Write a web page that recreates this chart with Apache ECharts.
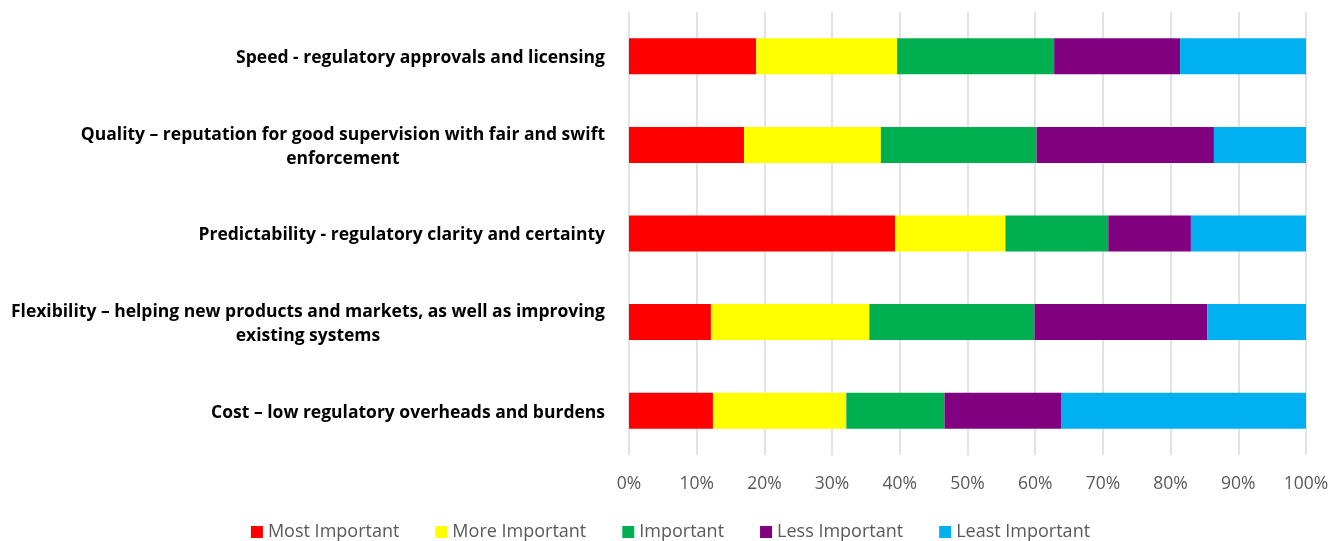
<!DOCTYPE html>
<html>
<head>
<meta charset="utf-8">
<script src="https://cdn.jsdelivr.net/npm/echarts@6/dist/echarts.min.js"></script>
<style>html,body{margin:0;padding:0;background:#fff}#c{width:1341px;height:541px}</style>
</head>
<body>
<div id="c"></div>
<script>
const categories = [
  "Speed - regulatory approvals and licensing",
  "Quality \u2013 reputation for good supervision with fair and swift\nenforcement",
  "Predictability - regulatory clarity and certainty",
  "Flexibility \u2013 helping new products and markets, as well as improving\nexisting systems",
  "Cost \u2013 low regulatory overheads and burdens"
];
const seriesNames = ["Most Important", "More Important", "Important", "Less Important", "Least Important"];
const mostImportant  = [18.8, 17.0, 39.3, 12.1, 12.4];
const moreImportant  = [20.8, 20.2, 16.3, 23.4, 19.7];
const important      = [23.2, 23.0, 15.2, 24.4, 14.5];
const lessImportant  = [18.6, 26.2, 12.2, 25.5, 17.3];
const leastImportant = [18.6, 13.6, 17.0, 14.6, 36.1];
const colors = ["#ff0000", "#ffff00", "#00b050", "#800080", "#00b0f0"];
const values = [mostImportant, moreImportant, important, lessImportant, leastImportant];

const labelFont = "'Open Sans', sans-serif";
const chart = echarts.init(document.getElementById('c'));
chart.setOption({
  animation: false,
  grid: { left: 629, right: 35, top: 12, bottom: 86, containLabel: false },
  legend: {
    top: 518, left: 'center', itemWidth: 12, itemHeight: 12, itemGap: 36,
    icon: 'rect',
    textStyle: { color: '#595959', fontSize: 18, fontFamily: labelFont },
    data: seriesNames
  },
  xAxis: {
    type: 'value', min: 0, max: 100, interval: 10,
    axisLabel: { formatter: '{value}%', color: '#595959', fontSize: 17.5, fontFamily: labelFont, margin: 20 },
    axisLine: { show: false }, axisTick: { show: false },
    splitLine: { lineStyle: { color: '#d9d9d9', width: 1.5 } }
  },
  yAxis: {
    type: 'category', data: categories, inverse: true,
    axisLine: { show: false }, axisTick: { show: false },
    axisLabel: {
      margin: 24, align: 'right', padding: [4, 0, 0, 0],
      formatter: v => '{c|' + v + '}',
      rich: { c: { color: '#000', fontSize: 17.5, fontWeight: 'bold', fontFamily: labelFont, lineHeight: 24, align: 'center' } }
    }
  },
  series: seriesNames.map((n, i) => ({
    name: n, type: 'bar', stack: 'total', barWidth: 36,
    itemStyle: { color: colors[i] },
    data: values[i]
  }))
});
</script>
</body>
</html>
